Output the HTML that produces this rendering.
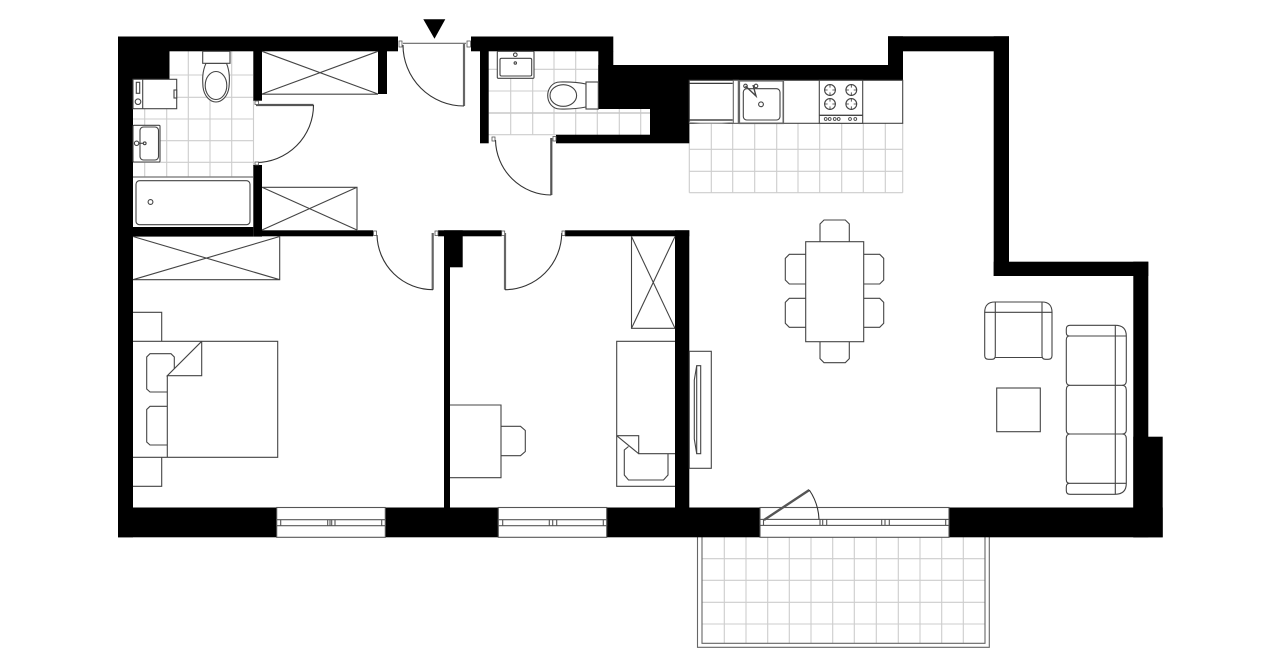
<!DOCTYPE html>
<html><head><meta charset="utf-8"><title>Floor plan</title>
<style>html,body{margin:0;padding:0;background:#fff;width:1280px;height:667px;overflow:hidden}svg{display:block}</style></head>
<body>
<svg xmlns="http://www.w3.org/2000/svg" width="1280" height="667" viewBox="0 0 1280 667">
<rect width="1280" height="667" fill="#fff"/>
<!-- tiles -->
<g fill="none" stroke="#cdcdcd" stroke-width="1.1">
<path d="M144.7 108V177M166.7 108V177M188.3 51V177M210 51V177M231.7 51V177M170 75H253M177 97.3H253M133 119H253M133 140.7H253M133 162.3H253M253.5 100V166"/>
<path d="M510.7 69V135M532.7 69V135M554 51V135M575.7 51V135M597.3 109V135M619.3 109V135M640.7 109V135M488 69.3H598M488 91H598M488 134.7H556"/>
<path d="M711.3 123V192.7M732.7 123V192.7M754.7 123V192.7M776.7 123V192.7M798 123V192.7M819.7 123V192.7M841.7 123V192.7M863.3 123V192.7M885.3 123V192.7M689.3 149.3H902.7M689.3 171.3H902.7M689.3 192.7H902.7M902.7 123V192.7M689.3 123V192.7"/>
<path d="M724.3 537V643M746 537V643M767.7 537V643M789.3 537V643M811 537V643M832.7 537V643M854.3 537V643M876.3 537V643M898.3 537V643M920 537V643M941.7 537V643M963.3 537V643M702 558.7H985M702 580.3H985M702 602.3H985M702 624H985"/>
</g>
<path d="M488.7 113H650" stroke="#c8c8c8" stroke-width="1.5" fill="none"/>
<!-- balcony -->
<path d="M697.5 537V647.3H989.3V537M702 537V643.3H985V537" fill="none" stroke="#666" stroke-width="1.1"/>
<!-- walls -->
<g fill="#000">
<rect x="118" y="36.5" width="280" height="14.8"/>
<rect x="118" y="36.5" width="15" height="500.8"/>
<rect x="118" y="36.5" width="51.5" height="42.8"/>
<rect x="253.3" y="51" width="8.7" height="49.7"/>
<rect x="378" y="51" width="9" height="43"/>
<rect x="253.3" y="165" width="8.7" height="71.6"/>
<rect x="133" y="227" width="120.3" height="9.6"/>
<rect x="262" y="230.3" width="111" height="6"/>
<rect x="471" y="36.5" width="142.3" height="14.8"/>
<rect x="480" y="51" width="8.7" height="92.3"/>
<rect x="598.3" y="51" width="15" height="58"/>
<rect x="598.3" y="65" width="51.7" height="44"/>
<rect x="650" y="65" width="39.3" height="78.3"/>
<rect x="613" y="65" width="290" height="15.3"/>
<rect x="556" y="134.7" width="94" height="8.6"/>
<rect x="888" y="36.3" width="121" height="15"/>
<rect x="888" y="36.3" width="15" height="44"/>
<rect x="993.7" y="36.3" width="15.3" height="239.7"/>
<rect x="993.7" y="261.7" width="154.6" height="14.3"/>
<rect x="1133.3" y="261.7" width="15" height="275.6"/>
<rect x="1133.3" y="436.7" width="29.4" height="100.6"/>
<rect x="118" y="507.5" width="1044.7" height="29.8"/>
<rect x="444" y="232" width="6" height="276"/>
<rect x="444" y="230.3" width="18.7" height="37"/>
<rect x="438" y="230.3" width="63.7" height="6"/>
<rect x="565" y="230.3" width="124.3" height="6"/>
<rect x="675" y="230.3" width="14.3" height="278"/>
</g>
<!-- windows -->
<g fill="#fff" stroke="#555" stroke-width="1.1">
<rect x="276.7" y="507.5" width="108.6" height="29.8"/>
<rect x="498.3" y="507.5" width="108.4" height="29.8"/>
<rect x="760" y="507.5" width="189" height="29.8"/>
<rect x="276.7" y="519.7" width="108.6" height="6"/>
<rect x="498.3" y="519.7" width="108.4" height="6"/>
<rect x="760" y="519.4" width="189" height="6"/>
</g>
<path d="M280.7 519.7v6M327.7 519.7v6M330 519.7v6M331.7 519.7v6M335 519.7v6M381.7 519.7v6M502.7 519.7v6M549.3 519.7v6M552.7 519.7v6M556.7 519.7v6M603.3 519.7v6M763.5 519.4v6M820 519.4v6M822.7 519.4v6M826.7 519.4v6M881.7 519.4v6M885 519.4v6M889.3 519.4v6M945.7 519.4v6" stroke="#555" stroke-width="1.1" fill="none"/>
<!-- balcony door -->
<path d="M764 520L809.3 490" stroke="#555" stroke-width="2.4" fill="none"/>
<path d="M809.3 490A56 56 0 0 1 819 519.4" stroke="#333" stroke-width="1.1" fill="none"/>
<!-- closets + furniture -->
<g fill="none" stroke="#444" stroke-width="1.1">
<path d="M262 51.3L378 94M378 51.3L262 94M262 94.2H378"/>
<path d="M262 187.3H357V230M262 187.3L357 230M357 187.3L262 230"/>
<path d="M133 236.5L279.7 279.7M279.7 236.5L133 279.7M133 279.7H279.7V236.5"/>
<path d="M631.5 236.5V328.3H675M631.5 236.5L675 328.3M675 236.5L631.5 328.3"/>
<!-- bedroom 1 -->
<path d="M133 312.3H161.7V341.3M133 486.3H161.7V457.3"/>
<path d="M133 341.3H277.7V457.3H133M167.3 375.7V457.3"/>
<path d="M201.7 341.3V375.7H167.3L201.7 341.3"/>
<path d="M167.3 392H150L146.7 389V357L150 353.7H171L174.3 357V368.7"/>
<path d="M167.3 406.3H150L146.7 409.5V442L150 445H167.3"/>
<!-- bedroom 2 -->
<path d="M675 341.3H616.7V486.3H675"/>
<path d="M616.7 435.7H638.7V453.7H675M616.7 435.7L638.7 453.7"/>
<path d="M628.5 446.5L624.3 450V475L628.5 480H663.5L668 475V453.7"/>
<path d="M450 405H501V477.7H450"/>
<path d="M501 426.3H520.5L525.3 430.5V451.5L520.5 455.7H501"/>
<rect x="689.3" y="351.3" width="22" height="117" fill="#fff"/>
<path d="M696.7 365.7H700.7V453.7H696.7L694.3 439V380Z"/>
<path d="M696.7 365.7V453.7"/>
<!-- dining -->
<path d="M820 241.7V224L824 220H845.3L849.3 224V241.7"/>
<path d="M820 341.7V358.7L824 362.7H845.3L849.3 358.7V341.7"/>
<path d="M805.7 254.3H789.3L785.3 258.3V280L789.3 284H805.7"/>
<path d="M805.7 298.3H789.3L785.3 302.3V323.3L789.3 327.3H805.7"/>
<path d="M863.7 254.3H879.7L883.7 258.3V280L879.7 284H863.7"/>
<path d="M863.7 298.3H879.7L883.7 302.3V323.3L879.7 327.3H863.7"/>
<rect x="805.7" y="241.7" width="58" height="100"/>
<!-- armchair -->
<path d="M984.7 312V355.5Q984.7 359.3 988.5 359.3H992Q995.3 359.3 995.3 355.5V302M1042 302V355.5Q1042 359.3 1045.5 359.3H1048.2Q1052 359.3 1052 355.5V312"/>
<path d="M984.7 312.3Q984.7 302 995 302H1042Q1052 302 1052 312.3H984.7M995.3 357.5H1042"/>
<rect x="996.7" y="388" width="43.6" height="43.7"/>
<!-- sofa -->
<path d="M1115.3 325.3V494.3"/>
<path d="M1070 325.3H1115.3Q1126.3 325.3 1126.3 336V381Q1126.3 385.3 1122 385.3Q1126.3 385.3 1126.3 390V430Q1126.3 434 1122 434Q1126.3 434 1126.3 438.5V483.3Q1126.3 494.3 1115.3 494.3H1070Q1066.3 494.3 1066.3 490.5V487Q1066.3 483.3 1069.5 483.3Q1066.3 483.3 1066.3 479.5V438.5Q1066.3 434 1070 434Q1066.3 434 1066.3 430V390Q1066.3 385.3 1070 385.3Q1066.3 385.3 1066.3 381V340Q1066.3 336 1069.5 336Q1066.3 336 1066.3 332.5V329Q1066.3 325.3 1070 325.3Z"/>
<path d="M1069.5 336H1126.3M1070 385.3H1122M1070 434H1122M1069.5 483.3H1126.3"/>
</g>
<!-- bathroom fixtures -->
<g fill="#fff" stroke="#444" stroke-width="1.1">
<path d="M133 177H253" stroke="#888" stroke-width="1.6"/>
<rect x="136" y="180.7" width="114" height="44" rx="3.5"/>
<circle cx="150.5" cy="202" r="2.4"/>
<rect x="133" y="79.3" width="43.7" height="29.4"/>
<path d="M142.7 79.3V108.7" fill="none"/>
<rect x="136.3" y="82.3" width="3.4" height="11"/>
<circle cx="138" cy="101.7" r="2.8"/>
<rect x="174" y="90" width="2.7" height="8"/>
<rect x="133" y="125.3" width="27" height="36.7" rx="1"/>
<rect x="140" y="127" width="18.5" height="33" rx="3.5"/>
<circle cx="136.6" cy="143.3" r="2.2"/>
<circle cx="144.7" cy="143.3" r="1.4"/>
<path d="M138.8 143.3H143.3" fill="none"/>
<path d="M206 63.3C202 72 202.5 80 203 87C204 96 210 102 216 102C222 102 228 96 229 87C229.6 80 230 72 226.5 63.3Z"/>
<ellipse cx="216" cy="85.5" rx="10.8" ry="14"/>
<rect x="202.7" y="51.3" width="27.3" height="12"/>
<!-- wc2 -->
<rect x="497.3" y="51.3" width="36.7" height="27" rx="1"/>
<rect x="500" y="58.3" width="31.7" height="17.7" rx="1.5"/>
<circle cx="515.3" cy="54.7" r="1.8"/>
<circle cx="515.3" cy="63" r="1.2"/>
<path d="M586 84C574 81.5 566 82 560 82C552 82 547.7 89 547.7 95.5C547.7 102 552 109 560 109C566 109 574 109.5 586 107Z"/>
<ellipse cx="563.3" cy="95.5" rx="13.3" ry="10.8"/>
<rect x="586" y="82" width="12.3" height="27"/>
<!-- kitchen -->
<rect x="689.3" y="80.3" width="213.4" height="43" fill="none"/>
<rect x="733.3" y="80.3" width="5" height="43" fill="#fff" stroke="#666"/>
<rect x="739.3" y="80.8" width="44" height="42.5" stroke="#666" stroke-width="1.6"/>
<rect x="743.3" y="88.7" width="36.7" height="31.3" rx="3.5"/>
<circle cx="761" cy="104.3" r="2.4"/>
<circle cx="745.5" cy="86" r="1.8"/>
<circle cx="756" cy="86" r="1.8"/>
<path d="M745.5 86L756 96L753 85" fill="none" stroke-width="1.4"/>
<rect x="819.3" y="80.3" width="43.4" height="43"/>
<path d="M819.3 115.3H862.7" stroke-width="1.4"/>
<circle cx="830" cy="90" r="5.4"/>
<circle cx="851.3" cy="90" r="5.4"/>
<circle cx="830" cy="104" r="5.4"/>
<circle cx="851.3" cy="104" r="5.4"/>
<g stroke-width=".9">
<circle cx="825.7" cy="119" r="1.4"/><circle cx="829.7" cy="119" r="1.4"/><circle cx="834.7" cy="119" r="1.4"/><circle cx="838.7" cy="119" r="1.4"/><circle cx="850" cy="119" r="1.4"/><circle cx="855.3" cy="119" r="1.4"/>
</g>
</g>
<path d="M689.3 83.3H732.7M689.3 120H732.7" stroke="#222" stroke-width="1.2" fill="none"/>
<path d="M689.3 122.3Q711 124.3 732.7 122.3" stroke="#aaa" stroke-width="1" fill="none"/>
<!-- burner ticks -->
<path d="M830 84.6v3M830 92.4v3M824.6 90h3M832.4 90h3M851.3 84.6v3M851.3 92.4v3M845.9 90h3M853.7 90h3M830 98.6v3M830 106.4v3M824.6 104h3M832.4 104h3M851.3 98.6v3M851.3 106.4v3M845.9 104h3M853.7 104h3" stroke="#333" stroke-width=".8" fill="none"/>
<!-- doors -->
<g fill="none">
<path d="M256 105H313.5" stroke="#555" stroke-width="2.2"/>
<path d="M464 44V106" stroke="#666" stroke-width="2.2"/>
<path d="M403 43.3H466" stroke="#666" stroke-width="1.1"/>
<path d="M551.3 138V195" stroke="#555" stroke-width="2.2"/>
<path d="M432.7 233V289.7" stroke="#666" stroke-width="2.2"/>
<path d="M505 233V289.7" stroke="#666" stroke-width="2.2"/>
<g stroke="#333" stroke-width="1.1">
<path d="M313.5 105A57.5 57.5 0 0 1 256 162.5"/>
<path d="M464 106A61 61 0 0 1 403 45"/>
<path d="M551.3 195A56 56 0 0 1 495.5 140"/>
<path d="M433 289.7A56 56 0 0 1 377 235"/>
<path d="M505 289.7A57 57 0 0 0 561.7 233"/>
</g>
</g>
<!-- door frames -->
<g fill="#fff" stroke="#555" stroke-width=".8">
<rect x="255" y="101" width="3.5" height="3.5"/><rect x="255" y="162" width="3.5" height="3"/>
<rect x="399" y="41" width="3" height="6"/><rect x="467" y="41" width="3.5" height="6"/>
<rect x="492" y="137" width="3" height="4"/><rect x="553" y="136.5" width="3" height="4.5"/>
<rect x="373.5" y="231" width="3" height="4.5"/><rect x="435" y="231" width="3" height="4.5"/>
<rect x="501.7" y="231" width="3" height="4.5"/><rect x="562" y="231" width="3" height="4.5"/>
</g>
<!-- entry marker -->
<path d="M423.3 19.3H445.3L434.5 38.7Z" fill="#000"/>
</svg>
</body></html>
